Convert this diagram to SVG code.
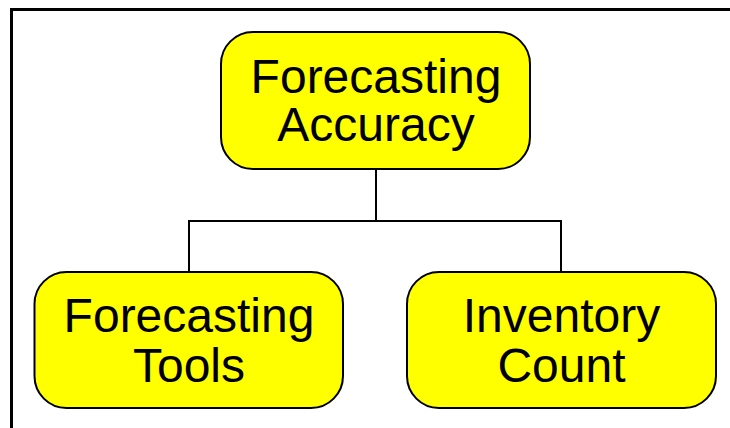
<svg xmlns="http://www.w3.org/2000/svg" width="730" height="428" viewBox="0 0 730 428">
  <style>
    .node rect { fill: #ffff00; stroke: #000; stroke-width: 2; }
    .node text { font-family: "Liberation Sans", Arial, sans-serif; font-size: 48px; fill: #000; text-anchor: middle; }
    .conn { fill: none; stroke: #000; stroke-width: 2; }
    .frame { fill: none; stroke: #000; stroke-width: 3; }
  </style>
  <rect width="730" height="428" fill="#fff"/>
  <!-- frame: top and left edges -->
  <path class="frame" d="M11.5 428 V9.5 H730"/>
  <g id="connectors">
    <path class="conn" d="M376 169 V221 M189 272 V221 H561 V272"/>
  </g>
  <g id="forecasting-accuracy" class="node">
    <rect x="221" y="32" width="309" height="137" rx="32" ry="32"/>
    <text x="376" y="93">Forecasting</text>
    <text x="376" y="141">Accuracy</text>
  </g>
  <g id="forecasting-tools" class="node">
    <rect x="34.5" y="272" width="308.5" height="136" rx="32" ry="32"/>
    <text x="189" y="332">Forecasting</text>
    <text x="189" y="382">Tools</text>
  </g>
  <g id="inventory-count" class="node">
    <rect x="407" y="272" width="309" height="136" rx="32" ry="32"/>
    <text x="561.5" y="332">Inventory</text>
    <text x="561.5" y="382">Count</text>
  </g>
</svg>
